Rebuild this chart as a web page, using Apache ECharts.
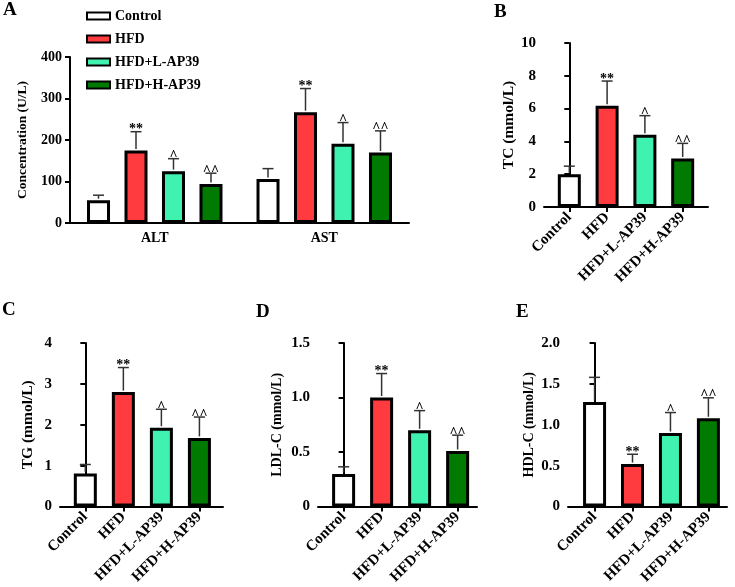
<!DOCTYPE html>
<html>
<head>
<meta charset="utf-8">
<script src="https://cdn.jsdelivr.net/npm/echarts@6.0.0/dist/echarts.min.js"></script>
<style>
html,body{margin:0;padding:0;background:#fff;}
#chart{width:735px;height:587px;}
</style>
</head>
<body>
<div id="chart"></div>
<script>
// ---------- data ----------
const groups = ['Control', 'HFD', 'HFD+L-AP39', 'HFD+H-AP39'];
const groupMarks = ['', '**', '^', '^^'];

const aCategories = ['ALT', 'AST'];
const altMeans = [55, 175, 125, 94];
const altUpper = [67, 220, 155, 120];
const astMeans = [106, 267, 191, 170];
const astUpper = [131, 324, 242, 222];

const tcMeans = [2.0, 6.17, 4.41, 2.96];
const tcUpper = [2.49, 7.68, 5.57, 3.88];

const tgMeans = [0.81, 2.8, 1.93, 1.68];
const tgUpper = [1.03, 3.4, 2.38, 2.19];

const ldlMeans = [0.3, 1.0, 0.7, 0.51];
const ldlUpper = [0.365, 1.22, 0.88, 0.655];

const hdlMeans = [1.28, 0.52, 0.9, 1.08];
const hdlUpper = [1.58, 0.64, 1.15, 1.33];

// ---------- style ----------
const fills = ['#ffffff', '#ff3b3f', '#40f2b0', '#007a00'];
const FONT = '"Liberation Serif", "Times New Roman", serif';
const BAR_W = 23;
const A_GAP_PCT = 63;
const A_SPACING = BAR_W * (1 + A_GAP_PCT / 100);

function errRender(offsetPx, markFn) {
  return function (params, api) {
    const x = api.value(0), m = api.value(1), u = api.value(2);
    const p0 = api.coord([x, m]);
    const p1 = api.coord([x, u]);
    const cx = p0[0] + offsetPx;
    const mark = markFn(params);
    const st = { stroke: '#333', lineWidth: 1.5 };
    return {
      type: 'group',
      children: [
        { type: 'line', shape: { x1: cx, y1: p0[1] - 1.5, x2: cx, y2: p1[1] }, style: st },
        { type: 'line', shape: { x1: cx - 5.5, y1: p1[1], x2: cx + 5.5, y2: p1[1] }, style: st },
        { type: 'text', style: { text: mark, x: cx, y: p1[1] + 5, align: 'center', verticalAlign: 'bottom',
          font: 'bold 14px ' + FONT, fill: '#000' } }
      ]
    };
  };
}

const axisLineStyle = { lineStyle: { color: '#000', width: 2 } };
const axisTickStyle = { length: 5, lineStyle: { color: '#000', width: 2 } };
function lbl(size) { return { color: '#000', fontFamily: FONT, fontWeight: 'bold', fontSize: size }; }
function decFmt(v) { return v === 0 ? '0' : v.toFixed(1); }

const grids = [
  { left: 70, top: 57, width: 339, height: 166 },   // A
  { left: 544, top: 43, width: 164, height: 164 },  // B
  { left: 60, top: 343, width: 163, height: 165 },  // C
  { left: 318, top: 343, width: 159, height: 165 }, // D
  { left: 568, top: 343, width: 159, height: 165 }  // E
];

const xAxes = [
  { gridIndex: 0, type: 'category', data: aCategories, axisLine: axisLineStyle,
    axisTick: Object.assign({ alignWithLabel: true }, axisTickStyle),
    axisLabel: Object.assign({ margin: 8 }, lbl(14)) }
];
const xRanges = [[-0.67, 3.67], [-0.666, 3.62], [-0.674, 3.51], [-0.70, 3.49]];
xRanges.forEach((r, k) => {
  xAxes.push({
    gridIndex: k + 1, type: 'value', min: r[0], max: r[1],
    splitLine: { show: false },
    axisLine: axisLineStyle,
    axisTick: Object.assign({ customValues: groups.map((g, i) => i) }, axisTickStyle),
    axisLabel: Object.assign({ customValues: groups.map((g, i) => i), rotate: 45, margin: 8,
      formatter: v => groups[Math.round(v)] }, lbl(15))
  });
});

const yDefs = [
  { max: 400, interval: 100, name: 'Concentration (U/L)', gap: 40, fmt: null, nf: 13.5, tf: 14 },
  { max: 10, interval: 2, name: 'TC (mmol/L)', gap: 25, fmt: null, nf: 15.5, tf: 15 },
  { max: 4, interval: 1, name: 'TG (mmol/L)', gap: 24, fmt: null, nf: 15.5, tf: 15 },
  { max: 1.5, interval: 0.5, name: 'LDL-C (mmol/L)', gap: 34, fmt: decFmt, nf: 14, tf: 15 },
  { max: 2.0, interval: 0.5, name: 'HDL-C (mmol/L)', gap: 32, fmt: decFmt, nf: 14, tf: 15 }
];
const yAxes = yDefs.map((d, k) => ({
  gridIndex: k, type: 'value', min: 0, max: d.max, interval: d.interval,
  name: d.name, nameLocation: 'middle', nameGap: d.gap,
  nameTextStyle: lbl(d.nf),
  splitLine: { show: false },
  axisLine: Object.assign({ show: true }, axisLineStyle),
  axisTick: Object.assign({ show: true }, axisTickStyle),
  axisLabel: Object.assign({ margin: 8, formatter: d.fmt || undefined }, lbl(d.tf))
}));

const series = [];
// Panel A
groups.forEach((g, i) => {
  series.push({
    type: 'bar', name: g, xAxisIndex: 0, yAxisIndex: 0,
    data: [altMeans[i], astMeans[i]],
    barWidth: BAR_W, barGap: A_GAP_PCT + '%',
    itemStyle: { color: fills[i], borderColor: '#000', borderWidth: 3 },
    z: 2
  });
});
groups.forEach((g, i) => {
  series.push({
    type: 'custom', xAxisIndex: 0, yAxisIndex: 0, z: 3,
    data: [[0, altMeans[i], altUpper[i]], [1, astMeans[i], astUpper[i]]],
    encode: { x: 0, y: [1, 2] },
    renderItem: errRender((i - 1.5) * A_SPACING, () => groupMarks[i])
  });
});
// Panels B-E
const panelData = [[tcMeans, tcUpper], [tgMeans, tgUpper], [ldlMeans, ldlUpper], [hdlMeans, hdlUpper]];
panelData.forEach((pd, k) => {
  const means = pd[0], upper = pd[1];
  series.push({
    type: 'bar', name: 'panel' + k, xAxisIndex: k + 1, yAxisIndex: k + 1,
    barWidth: BAR_W,
    data: groups.map((g, i) => ({ value: [i, means[i]], itemStyle: { color: fills[i] } })),
    itemStyle: { borderColor: '#000', borderWidth: 3 },
    z: 2
  });
  series.push({
    type: 'custom', xAxisIndex: k + 1, yAxisIndex: k + 1, z: 3,
    data: groups.map((g, i) => [i, means[i], upper[i]]),
    encode: { x: 0, y: [1, 2] },
    renderItem: errRender(0, p => groupMarks[p.dataIndex])
  });
});

const letters = [['A', 3, 1], ['B', 494, 3], ['C', 2, 301], ['D', 256, 303], ['E', 516, 303]];

const chart = echarts.init(document.getElementById('chart'), null, { renderer: 'canvas' });
chart.setOption({
  animation: false,
  backgroundColor: '#fff',
  grid: grids,
  xAxis: xAxes,
  yAxis: yAxes,
  legend: {
    data: groups, orient: 'vertical', left: 86, top: 9, itemGap: 9, padding: 0,
    itemWidth: 23, itemHeight: 7, icon: 'rect',
    itemStyle: { borderColor: '#000', borderWidth: 2 },
    textStyle: lbl(14)
  },
  graphic: letters.map(l => ({
    type: 'text', left: l[1], top: l[2],
    style: { text: l[0], font: 'bold 19px ' + FONT, fill: '#000' }
  })),
  series: series
});
</script>
</body>
</html>
